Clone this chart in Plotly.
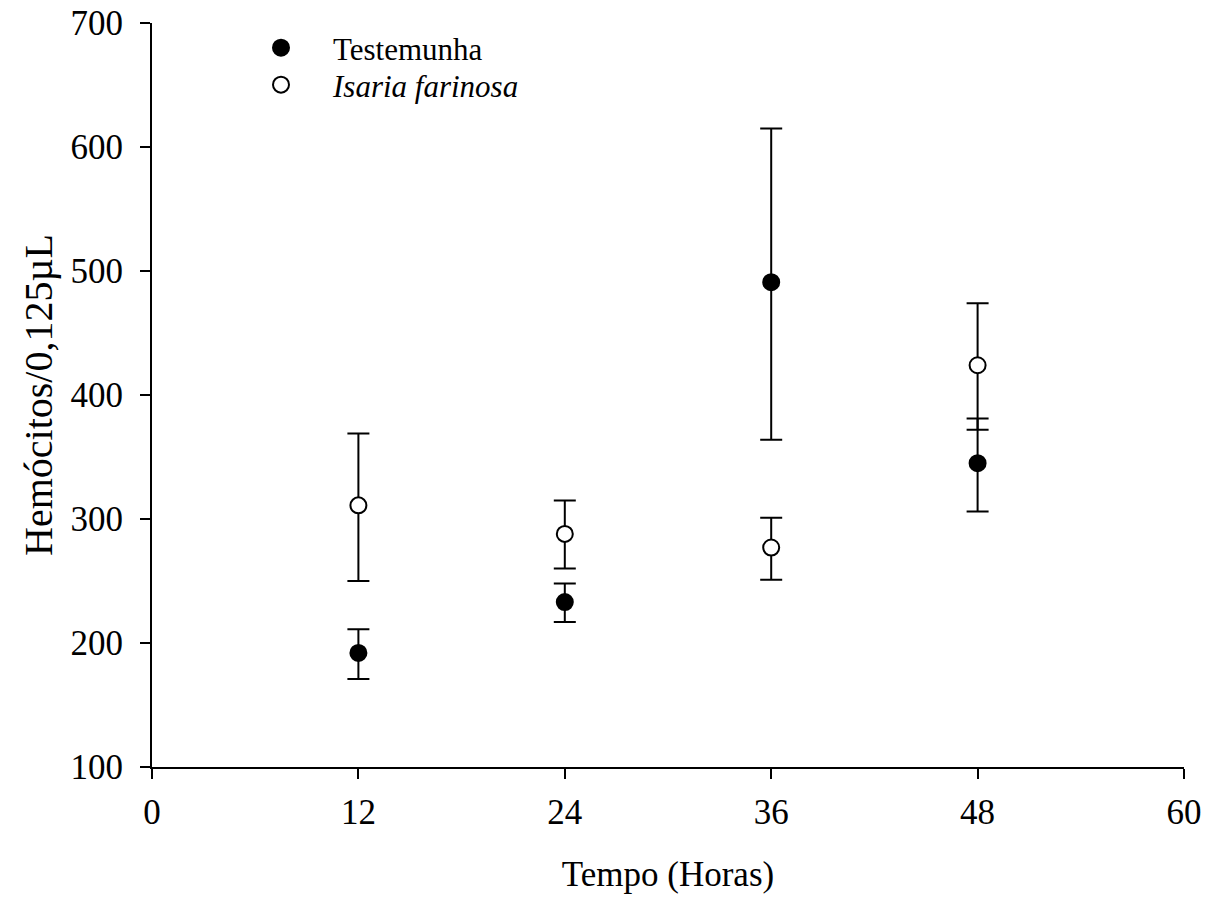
import plotly.graph_objects as go

hours = [12, 24, 36, 48]
test_mean = [192, 233, 491, 345]
test_upper = [211, 248, 615, 381]
test_lower = [171, 217, 364, 306]
isaria_mean = [311, 288, 277, 424]
isaria_upper = [369, 315, 301, 474]
isaria_lower = [250, 260, 251, 372]

def plus(up, m):
    return [u - v for u, v in zip(up, m)]

def minus(lo, m):
    return [v - l for l, v in zip(lo, m)]

FONT = "Liberation Serif, Times New Roman, serif"
FS = 35
LFS = 31

fig = go.Figure()
fig.add_trace(go.Scatter(
    x=hours, y=test_mean, mode="markers", name="Testemunha", legend="legend",
    marker=dict(symbol="circle", size=16, color="black", line=dict(color="black", width=2)),
    error_y=dict(type="data", symmetric=False, array=plus(test_upper, test_mean),
                 arrayminus=minus(test_lower, test_mean), color="black", thickness=2, width=11),
))
fig.add_trace(go.Scatter(
    x=hours, y=isaria_mean, mode="markers", name="<i>Isaria farinosa</i>", legend="legend2",
    marker=dict(symbol="circle", size=16, color="white", line=dict(color="black", width=2)),
    error_y=dict(type="data", symmetric=False, array=plus(isaria_upper, isaria_mean),
                 arrayminus=minus(isaria_lower, isaria_mean), color="black", thickness=2, width=11),
))

def leg(ycenter_px):
    yp = (767 - ycenter_px) / 744.0
    return dict(x=(281 - 152 - 52) / 1032.0, y=yp, xanchor="left", yanchor="middle",
                bgcolor="rgba(0,0,0,0)", font=dict(family=FONT, size=LFS, color="black"),
                itemwidth=94, borderwidth=0)

fig.update_layout(
    width=1210, height=903,
    margin=dict(l=152, r=26, t=23, b=136),
    paper_bgcolor="white", plot_bgcolor="white",
    font=dict(family=FONT, size=FS, color="black"),
    showlegend=True,
    legend=leg(48),
    legend2=leg(85),
    xaxis=dict(range=[0, 60], tickvals=[0, 12, 24, 36, 48, 60], showgrid=False, zeroline=False,
               showline=True, linecolor="black", linewidth=2, ticks="outside", ticklen=10,
               tickwidth=2, tickcolor="black", tickfont=dict(family=FONT, size=FS),
               ticklabelstandoff=3, automargin=False,
               title=dict(text="Tempo (Horas)", font=dict(family=FONT, size=FS), standoff=30)),
    yaxis=dict(range=[100, 700], tickvals=[100, 200, 300, 400, 500, 600, 700], showgrid=False,
               zeroline=False, showline=True, linecolor="black", linewidth=2, ticks="outside",
               ticklen=10, tickwidth=2, tickcolor="black", tickfont=dict(family=FONT, size=FS),
               ticklabelstandoff=10, automargin=False,
               title=dict(text="Hemócitos/0,125µL", font=dict(family=FONT, size=40), standoff=6)),
)

fig.write_html("out.html")
